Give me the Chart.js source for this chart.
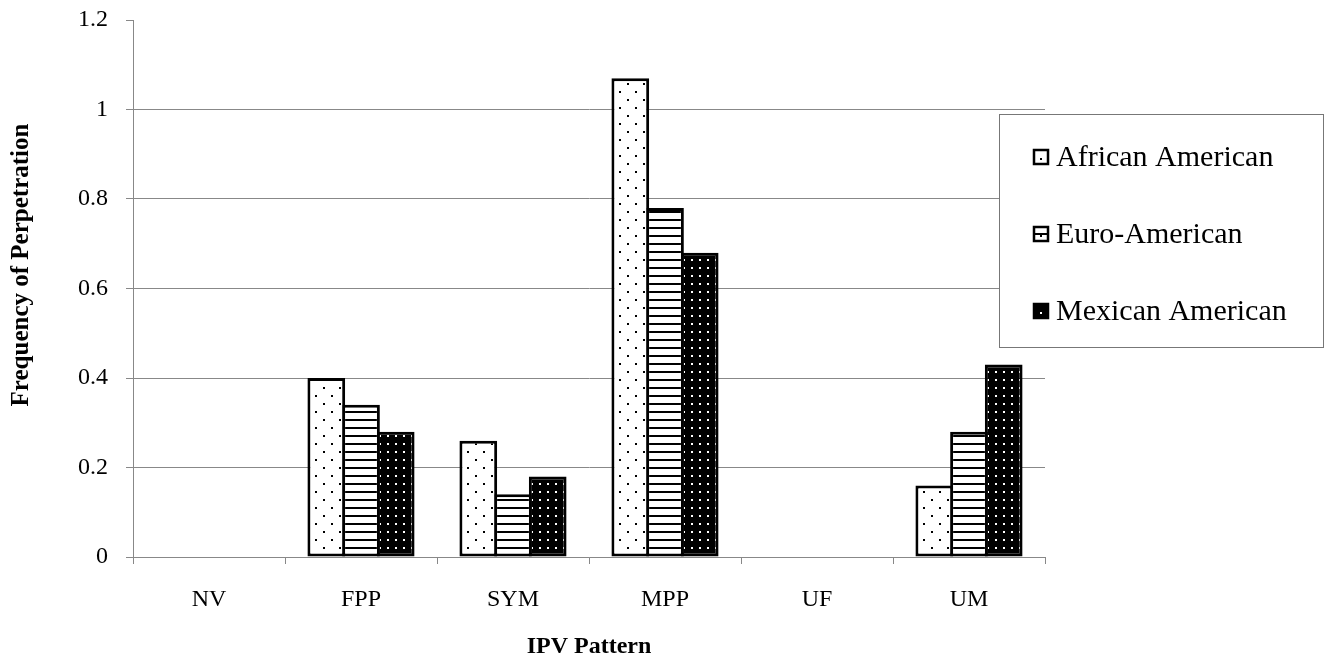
<!DOCTYPE html>
<html>
<head>
<meta charset="utf-8">
<script src="https://cdn.jsdelivr.net/npm/chart.js@4.4.1/dist/chart.umd.min.js"></script>
<style>
  html, body { margin: 0; padding: 0; background: #fff; }
  #wrap { width: 1329px; height: 661px; }
</style>
</head>
<body>
<div id="wrap"><canvas id="ipvChart"></canvas></div>
<script>
// IPV pattern categories and per-group frequencies
const categories = ["NV", "FPP", "SYM", "MPP", "UF", "UM"];
const africanAmerican = [0, 0.40, 0.26, 1.07, 0, 0.16];
const euroAmerican    = [0, 0.34, 0.14, 0.78, 0, 0.28];
const mexicanAmerican = [0, 0.28, 0.18, 0.68, 0, 0.43];
const yTicks = [0, 0.2, 0.4, 0.6, 0.8, 1, 1.2];
const yTitle = "Frequency of Perpetration";

const serif = "'Liberation Serif', 'Times New Roman', serif";

// Build fill patterns like the old office-style hatch fills
function makePattern(kind) {
  const c = document.createElement("canvas");
  const g = c.getContext("2d");
  if (kind === "dots") {
    c.width = 16; c.height = 16;
    g.fillStyle = "#fff"; g.fillRect(0, 0, 16, 16);
    g.fillStyle = "#000";
    g.fillRect(3, 3, 2, 2);
    g.fillRect(11, 11, 2, 2);
  } else if (kind === "lines") {
    c.width = 8; c.height = 8;
    g.fillStyle = "#fff"; g.fillRect(0, 0, 8, 8);
    g.fillStyle = "#000"; g.fillRect(0, 3, 8, 2);
  } else {
    c.width = 8; c.height = 8;
    g.fillStyle = "#000"; g.fillRect(0, 0, 8, 8);
    g.fillStyle = "#fff"; g.fillRect(3, 3, 2, 2);
  }
  return g.createPattern(c, "repeat");
}

const patterns = [makePattern("dots"), makePattern("lines"), makePattern("solid")];

// Y title sits a little above the plot's middle in the original
const yTitlePlugin = {
  id: "yTitle",
  afterDraw(chart) {
    const ctx = chart.ctx;
    ctx.save();
    ctx.translate(22, 265);
    ctx.rotate(-Math.PI / 2);
    ctx.font = "bold 25px " + serif;
    ctx.fillStyle = "#000";
    ctx.textAlign = "center";
    ctx.textBaseline = "middle";
    ctx.fillText(yTitle, 0, 0);
    ctx.restore();
  }
};

// Boxed legend drawn over the right part of the plot, as in the original
const boxLegend = {
  id: "boxLegend",
  afterDraw(chart) {
    const ctx = chart.ctx;
    const x0 = 999, y0 = 114, w = 324, h = 233;
    ctx.save();
    ctx.fillStyle = "#fff";
    ctx.fillRect(x0, y0, w, h);
    ctx.strokeStyle = "#777";
    ctx.lineWidth = 1;
    ctx.strokeRect(x0 + 0.5, y0 + 0.5, w, h);
    ctx.font = "30px " + serif;
    ctx.textBaseline = "middle";
    chart.data.datasets.forEach((ds, i) => {
      const cy = 157 + i * 77;
      const sx = 1034, sy = cy - 7, s = 14;
      ctx.fillStyle = i === 2 ? "#000" : "#fff";
      ctx.fillRect(sx, sy, s, s);
      ctx.strokeStyle = "#000";
      ctx.lineWidth = 2.5;
      ctx.strokeRect(sx, sy, s, s);
      if (i === 1) {
        ctx.lineWidth = 2;
        ctx.beginPath();
        ctx.moveTo(sx, cy); ctx.lineTo(sx + s, cy);
        ctx.stroke();
      }
      ctx.fillStyle = i === 2 ? "#fff" : "#000";
      ctx.fillRect(sx + 6, sy + 8, 2, 2);
      ctx.fillStyle = "#000";
      ctx.fillText(ds.label, 1056, cy + 1);
    });
    ctx.restore();
  }
};

const ctx = document.getElementById("ipvChart").getContext("2d");

new Chart(ctx, {
  type: "bar",
  data: {
    labels: categories,
    datasets: [
      { label: "African American", data: africanAmerican, backgroundColor: patterns[0] },
      { label: "Euro-American", data: euroAmerican, backgroundColor: patterns[1] },
      { label: "Mexican American", data: mexicanAmerican, backgroundColor: patterns[2] }
    ].map(d => Object.assign(d, {
      borderColor: "#000",
      borderWidth: 3,
      borderSkipped: false,
      categoryPercentage: 0.685,
      barPercentage: 1.087
    }))
  },
  options: {
    responsive: true,
    maintainAspectRatio: false,
    animation: false,
    layout: { padding: { top: 20, right: 284, left: 0, bottom: 0 } },
    plugins: {
      legend: { display: false },
      tooltip: { enabled: false }
    },
    scales: {
      x: {
        afterFit(axis) { axis.height = 104; },
        grid: {
          display: true,
          drawOnChartArea: false,
          offset: true,
          tickLength: 7,
          tickColor: "#888"
        },
        border: { color: "#888", width: 1 },
        ticks: {
          color: "#000",
          padding: 21,
          font: { family: serif, size: 24 }
        },
        title: {
          display: true,
          text: "IPV Pattern",
          color: "#000",
          padding: { top: 2, bottom: 0 },
          font: { family: serif, size: 24, weight: "bold" }
        }
      },
      y: {
        min: 0,
        max: 1.2,
        afterFit(axis) {
          axis.width = 133;
          axis.paddingTop = 0;
          axis.paddingBottom = 0;
        },
        afterBuildTicks(axis) {
          axis.ticks = yTicks.map(v => ({ value: v }));
        },
        grid: {
          color: c => (c.tick && c.tick.value === 1.2) ? "rgba(0,0,0,0)" : "#888",
          tickColor: "#888",
          tickLength: 7,
          lineWidth: 1
        },
        border: { color: "#888", width: 1 },
        ticks: {
          color: "#000",
          padding: 18,
          font: { family: serif, size: 24 },
          callback: v => String(Math.round(v * 10) / 10)
        },
        title: { display: false }
      }
    }
  },
  plugins: [yTitlePlugin, boxLegend]
});
</script>
</body>
</html>
